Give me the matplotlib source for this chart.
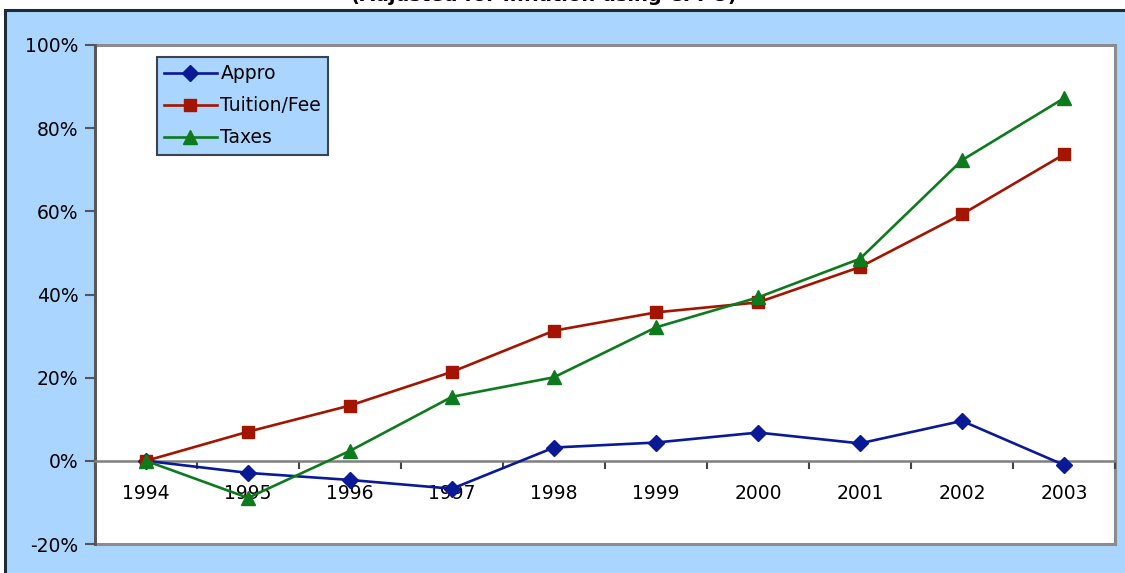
import matplotlib
matplotlib.use("Agg")
import matplotlib.pyplot as plt
from matplotlib.patches import Rectangle
from matplotlib.ticker import FixedLocator, FuncFormatter

years = ["1994", "1995", "1996", "1997", "1998", "1999", "2000", "2001", "2002", "2003"]
appro = [0.0, -2.9, -4.6, -6.7, 3.2, 4.4, 6.8, 4.2, 9.6, -1.0]
tuition = [0.0, 7.0, 13.3, 21.4, 31.3, 35.7, 38.1, 46.6, 59.3, 73.7]
taxes = [0.0, -8.9, 2.4, 15.4, 20.1, 32.1, 39.3, 48.6, 72.3, 87.2]
y_ticks = [-20, 0, 20, 40, 60, 80, 100]
title_text = "(Adjusted for Inflation using CPI-U)"

W, H = 1125, 573
BLUE_BG = "#A9D5FE"
C_APPRO = "#0A1A96"
C_TUIT = "#A31500"
C_TAX = "#0E7A1E"

fig = plt.figure(figsize=(W / 100, H / 100), dpi=100)
fig.patch.set_facecolor("white")

# chart area background (extends beyond the right and bottom edges)
bg = Rectangle((5 / W, -0.2), 1.2, (H - 10) / H + 0.2,
               transform=fig.transFigure, facecolor=BLUE_BG,
               edgecolor="#1E2A36", linewidth=2.2, zorder=-10)
fig.patches.append(bg)

# clipped title at the very top
fig.text(544 / W, 1 - 1.0 / H, title_text, ha="center", va="baseline",
         fontsize=14, fontweight="bold", color="black", zorder=-5)

left, right, top, bottom = 95, 1115, 45, 544
ax = fig.add_axes([left / W, (H - bottom) / H, (right - left) / W, (bottom - top) / H])
ax.set_zorder(5)
ax.set_facecolor("white")

x = list(range(len(years)))
ax.plot(x, appro, color=C_APPRO, lw=1.9, marker="D", ms=8.5, label="Appro", zorder=3)
ax.plot(x, tuition, color=C_TUIT, lw=1.9, marker="s", ms=9, label="Tuition/Fee", zorder=3)
ax.plot(x, taxes, color=C_TAX, lw=1.9, marker="^", ms=10.5, label="Taxes", zorder=3)

ax.set_xlim(-0.5, len(years) - 0.5)
ax.set_ylim(-20, 100)

for s in ["top", "right"]:
    ax.spines[s].set_visible(False)
ax.spines["left"].set_color("#555555")
ax.spines["left"].set_linewidth(2)
ax.spines["bottom"].set_position(("data", 0))
ax.spines["bottom"].set_color("#7F7F7F")
ax.spines["bottom"].set_linewidth(1.8)

# plot area frame
ax.add_patch(Rectangle((0, 0), 1, 1, transform=ax.transAxes, fill=False,
                       edgecolor="#8C8C8C", linewidth=2.2, clip_on=False, zorder=1))
ax.spines["left"].set_zorder(2)

ax.set_xticks(x)
ax.set_xticklabels(years)
ax.xaxis.set_minor_locator(FixedLocator([i + 0.5 for i in range(-1, len(years))]))
ax.tick_params(axis="x", which="major", length=0, pad=17, labelsize=13.5, colors="black")
ax.tick_params(axis="x", which="minor", length=6, width=1.5, direction="out", color="#444444")

ax.set_yticks(y_ticks)
ax.yaxis.set_major_formatter(FuncFormatter(lambda v, p: f"{int(v)}%"))
ax.tick_params(axis="y", length=7, width=1.5, direction="out", color="#555555",
               labelsize=13.5, pad=5)

leg = ax.legend(loc="upper left", bbox_to_anchor=((157 - left) / (right - left),
                                                  (bottom - 57) / (bottom - top)),
                borderaxespad=0, fancybox=False, framealpha=1, facecolor=BLUE_BG,
                edgecolor="#3A4450", fontsize=13.5, handlelength=2.8, labelspacing=0.7,
                handletextpad=0.2, borderpad=0.38)
leg.get_frame().set_linewidth(1.5)

fig.savefig("out.png", dpi=100)
